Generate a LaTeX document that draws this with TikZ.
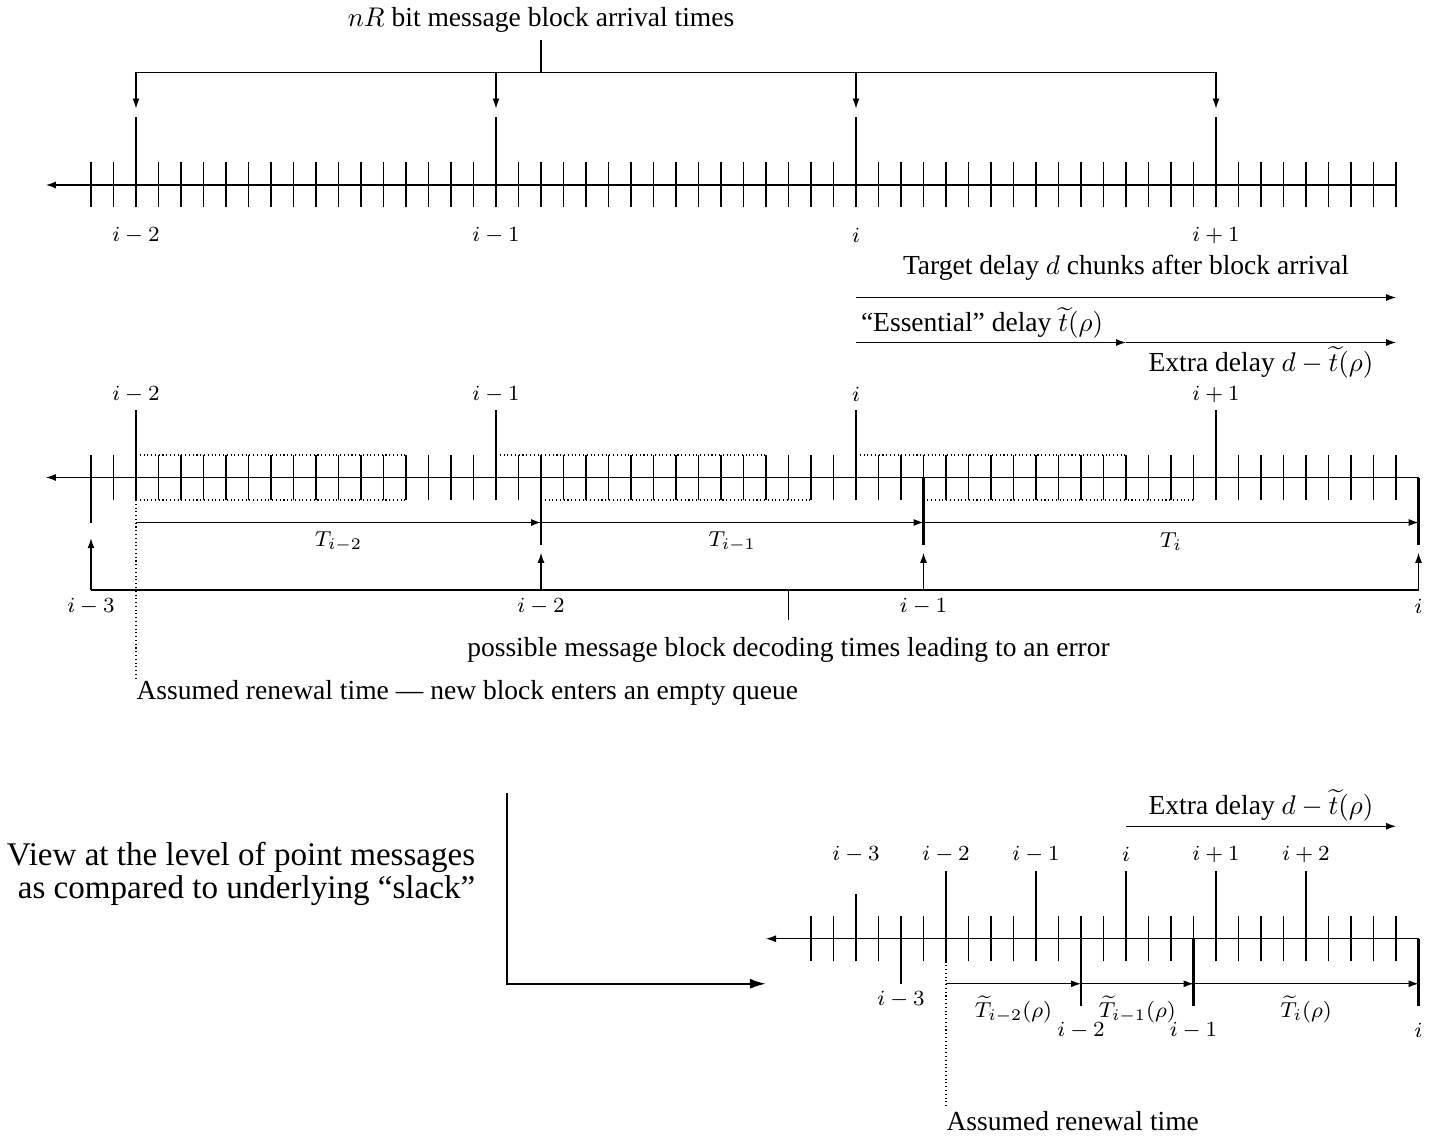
\documentclass[tikz,border=0pt]{standalone}
\usepackage{amsmath, amssymb}
\usepackage{fontspec}
\setmainfont{Liberation Serif}
\usepackage{tikz}
\usetikzlibrary{arrows.meta, positioning, calc}

\begin{document}
\begin{tikzpicture}[
    x=8.333pt, y=8.333pt,
    tk/.style={line width=0.4pt},
    bar/.style={line width=1pt},
    arr/.style={-{Latex[length=3.7pt, width=2.6pt]}, line width=0.4pt},
    bigarr/.style={-{Latex[length=6pt, width=3.8pt]}, line width=0.8pt},
    qline/.style={densely dotted, line width=0.4pt},
    lbl/.style={font=\fontsize{8.5}{10}\selectfont, inner sep=0pt},
    txt/.style={font=\fontsize{10.2}{12}\selectfont, inner sep=0pt}
]
\useasboundingbox (-4.0444,-42.2667) rectangle (59.7333,8.2222);

%% top: arrival of the message blocks
\foreach \k in {0,...,58}
    \draw[tk] (\k,-1) -- (\k,1);
\draw[arr] (58,0) -- (-2,0);

\node[txt] (title) at (20,7.33)
    {$nR$ bit message block arrival times};
\coordinate (brl) at (2,5);
\coordinate (brr) at (50,5);
\coordinate (brm) at (20,5);
\draw (brl) -- (brr);
\draw (brm) -- (20,6.45);

\foreach \k/\t in {2/i-2, 18/i-1, 34/i, 50/i+1} {
    \draw[bar] (\k,0) -- (\k,3);
    \draw[arr] (\k,5) -- (\k,3.4);
    \node[lbl] (ta\k) at (\k,-2.25) {$\t$};
}

%% delays
\coordinate (ds) at (34,-5);
\coordinate (de) at (58,-5);
\coordinate (es) at (34,-7);
\coordinate (em) at (46,-7);
\coordinate (ee) at (58,-7);
\draw[arr] (ds) -- (de);
\draw[arr] (es) -- (em);
\draw[arr] (em) -- (ee);
\node[txt] (target) at (46,-3.69) {Target delay $d$ chunks after block arrival};
\node[txt] (essen) at (39.6,-6.13) {``Essential'' delay $\widetilde{t}(\rho)$};
\node[txt] (extra) at (52,-7.87) {Extra delay $d-\widetilde{t}(\rho)$};

%% middle: queue and decoding times
\foreach \k in {0,...,58}
    \draw[tk] (\k,-14) -- (\k,-12);
\draw[arr] (59,-13) -- (-2,-13);

\foreach \k/\t in {2/i-2, 18/i-1, 34/i} {
    \draw[bar] (\k,-13) -- (\k,-10);
    \node[lbl] (ma\k) at (\k,-9.29) {$\t$};
}
\draw[bar] (50,-12) -- (50,-10);
\node[lbl] (ma50) at (50,-9.29) {$i+1$};

% queue contents
\draw[qline] (2,-12) -- (14,-12) (2,-14) -- (14,-14);
\draw[qline] (18,-12) -- (30,-12) (20,-14) -- (32,-14);
\draw[qline] (34,-12) -- (46,-12) (37,-14) -- (49,-14);

\draw[bar] (0,-13) -- (0,-15);
\foreach \k in {20, 37, 59}
    \draw[bar] (\k,-13) -- (\k,-16);

\coordinate (t0) at (2,-15);
\coordinate (t1) at (20,-15);
\coordinate (t2) at (37,-15);
\coordinate (t3) at (59,-15);
\draw[arr] (t0) -- (t1);
\draw[arr] (t1) -- (t2);
\draw[arr] (t2) -- (t3);
\node[lbl] (T2) at (11,-15.85) {$T_{i-2}$};
\node[lbl] (T1) at (28.5,-15.85) {$T_{i-1}$};
\node[lbl] (T0) at (48,-15.85) {$T_{i}$};

% possible decoding times
\coordinate (pl) at (0,-18);
\coordinate (pr) at (59,-18);
\coordinate (pm) at (31,-18);
\draw (pl) -- (pr);
\draw[arr] (pl) -- (0,-15.7);
\foreach \k in {20, 37, 59}
    \draw[arr] (\k,-18) -- (\k,-16.35);
\draw (pm) -- (31,-19.33);
\foreach \k/\t in {0/i-3, 20/i-2, 37/i-1, 59/i}
    \node[lbl] (md\k) at (\k,-18.73) {$\t$};
\node[txt] (poss) at (31,-20.67)
    {possible message block decoding times leading to an error};

\draw[qline] (2,-14) -- (2,-22);
\node[txt, anchor=west] (renew) at (2,-22.58)
    {Assumed renewal time --- new block enters an empty queue};

%% bottom: point messages
\node[font=\fontsize{12.25}{12.2}\selectfont, align=right, anchor=east, inner sep=0pt]
    (view) at (17.1,-30.6)
    {View at the level of point messages\\as compared to underlying ``slack''};
\draw[bigarr] (18.5,-27) -- (18.5,-35.5) -- (30,-35.5);

\foreach \k in {32,...,58}
    \draw[tk] (\k,-34.5) -- (\k,-32.5);
\draw[arr] (59,-33.5) -- (30,-33.5);

\draw[bar] (34,-33.5) -- (34,-31.5);
\foreach \k in {38, 42, 46}
    \draw[bar] (\k,-33.5) -- (\k,-30.5);
\foreach \k in {50, 54}
    \draw[bar] (\k,-32.5) -- (\k,-30.5);
\foreach \k/\t in {34/i-3, 38/i-2, 42/i-1, 46/i, 50/i+1, 54/i+2}
    \node[lbl] (ba\k) at (\k,-29.76) {$\t$};

\draw[bar] (36,-33.5) -- (36,-35.5);
\foreach \k in {44, 49, 59}
    \draw[bar] (\k,-33.5) -- (\k,-36.5);

\coordinate (s0) at (38,-35.5);
\coordinate (s1) at (44,-35.5);
\coordinate (s2) at (49,-35.5);
\coordinate (s3) at (59,-35.5);
\draw[arr] (s0) -- (s1);
\draw[arr] (s1) -- (s2);
\draw[arr] (s2) -- (s3);
\node[lbl] (S2) at (41,-36.65) {$\widetilde{T}_{i-2}(\rho)$};
\node[lbl] (S1) at (46.5,-36.65) {$\widetilde{T}_{i-1}(\rho)$};
\node[lbl] (S0) at (54,-36.65) {$\widetilde{T}_{i}(\rho)$};

\node[lbl] (bd36) at (36,-36.22) {$i-3$};
\foreach \k/\t in {44/i-2, 49/i-1, 59/i}
    \node[lbl] (bd\k) at (\k,-37.56) {$\t$};

\coordinate (xs) at (46,-28.5);
\coordinate (xe) at (58,-28.5);
\draw[arr] (xs) -- (xe);
\node[txt] (extra2) at (52,-27.56) {Extra delay $d-\widetilde{t}(\rho)$};

\draw[qline] (38,-33.5) -- (38,-41);
\node[txt, anchor=west] (renew2) at (38,-41.6) {Assumed renewal time};

\end{tikzpicture}
\end{document}
